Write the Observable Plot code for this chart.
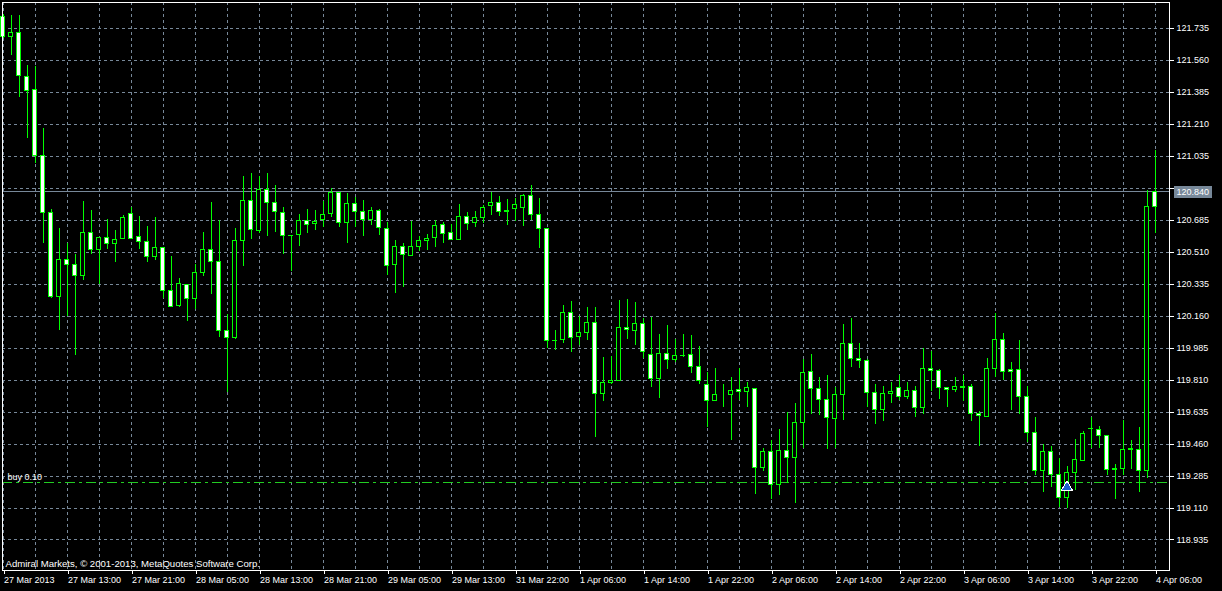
<!DOCTYPE html>
<html>
<head>
<meta charset="utf-8">
<script src="https://cdn.jsdelivr.net/npm/d3@7"></script>
<script src="https://cdn.jsdelivr.net/npm/@observablehq/plot@0.6"></script>
<style>
  html, body { margin: 0; padding: 0; background: #000; overflow: hidden; }
  #chart svg { display: block; }
  #chart svg line, #chart svg rect, #chart svg path { shape-rendering: crispEdges; }
</style>
</head>
<body>
<div id="chart"></div>
<script>
// USDJPY-like H1 bars (index = bar number, left to right)
const opens = [121.797,121.686,121.708,121.467,121.396,121.035,120.723,120.262,120.466,120.439,
120.377,120.614,120.521,120.587,120.552,120.579,120.718,120.592,120.565,120.481,
120.532,120.297,120.213,120.330,120.253,120.395,120.521,120.453,120.078,120.040,
120.568,120.789,120.623,120.849,120.778,120.723,120.596,120.601,120.680,120.663,
120.687,120.718,120.834,120.669,120.773,120.729,120.687,120.734,120.636,120.437,
120.537,120.490,120.535,120.568,120.587,120.658,120.614,120.576,120.701,120.669,
120.696,120.762,120.778,120.734,120.745,120.751,120.816,120.712,120.636,120.023,
120.027,120.176,120.045,120.065,120.122,119.731,119.791,119.805,120.096,120.078,
120.118,119.947,119.813,119.954,119.917,119.942,119.947,119.881,119.783,119.695,
119.728,119.728,119.755,119.744,119.761,119.329,119.416,119.236,119.422,119.383,
119.575,119.854,119.761,119.701,119.597,119.728,120.007,119.925,119.914,119.739,
119.646,119.733,119.766,119.717,119.750,119.655,119.870,119.857,119.766,119.755,
119.772,119.772,119.624,119.608,119.868,120.029,119.865,119.865,119.717,119.520,
119.310,119.416,119.291,119.165,119.301,119.369,119.540,119.537,119.503,119.318,
119.321,119.427,119.427,119.310,120.838];
const highs = [121.808,121.802,121.802,121.529,121.523,121.184,120.745,120.641,120.559,120.495,
120.785,120.736,120.590,120.690,120.626,120.709,120.751,120.703,120.648,120.698,
120.535,120.484,120.364,120.335,120.444,120.616,120.780,120.685,120.166,120.636,
120.922,120.942,120.922,120.942,120.873,120.754,120.599,120.714,120.745,120.736,
120.787,120.855,120.836,120.830,120.809,120.791,120.754,120.745,120.672,120.572,
120.554,120.676,120.594,120.608,120.685,120.672,120.658,120.769,120.725,120.730,
120.767,120.834,120.812,120.796,120.805,120.827,120.873,120.805,120.638,120.083,
120.216,120.238,120.158,120.207,120.207,119.934,119.937,120.244,120.249,120.233,
120.144,120.152,120.058,120.107,120.034,120.058,120.052,119.992,119.852,119.873,
119.788,119.821,119.873,119.794,119.763,119.438,119.478,119.537,119.634,119.679,
119.921,119.947,119.821,119.832,119.770,120.112,120.149,120.007,119.921,119.788,
119.777,119.795,119.835,119.799,119.777,119.985,119.966,119.870,119.766,119.821,
119.837,119.788,119.638,119.925,120.176,120.063,119.905,120.025,119.773,119.604,
119.460,119.445,119.383,119.336,119.484,119.527,119.606,119.555,119.505,119.347,
119.587,119.478,119.551,120.849,121.064];
const lows = [121.676,121.584,121.355,121.131,120.995,120.557,120.256,120.080,120.156,119.943,
120.353,120.495,120.331,120.526,120.453,120.579,120.579,120.526,120.453,120.466,
120.253,120.207,120.209,120.131,120.198,120.377,120.280,120.043,119.742,120.029,
120.431,120.576,120.612,120.594,120.617,120.495,120.402,120.539,120.612,120.626,
120.645,120.699,120.645,120.557,120.645,120.594,120.654,120.599,120.380,120.284,
120.316,120.486,120.512,120.517,120.535,120.557,120.572,120.574,120.626,120.645,
120.666,120.709,120.705,120.654,120.677,120.650,120.685,120.530,119.980,119.970,
120.009,119.959,119.998,120.025,119.496,119.691,119.788,119.801,120.030,120.001,
119.925,119.770,119.709,119.866,119.906,119.934,119.843,119.788,119.551,119.695,
119.657,119.478,119.697,119.660,119.183,119.310,119.159,119.177,119.245,119.135,
119.433,119.624,119.615,119.429,119.433,119.587,119.879,119.873,119.660,119.564,
119.584,119.679,119.697,119.701,119.606,119.624,119.748,119.702,119.660,119.742,
119.693,119.584,119.449,119.606,119.824,119.806,119.642,119.624,119.469,119.287,
119.195,119.223,119.113,119.110,119.205,119.365,119.433,119.438,119.287,119.154,
119.287,119.323,119.195,119.269,120.612];
const closes = [121.687,121.708,121.473,121.388,121.035,120.723,120.262,120.466,120.439,120.377,
120.614,120.521,120.587,120.552,120.576,120.698,120.579,120.563,120.481,120.532,
120.295,120.209,120.335,120.253,120.395,120.521,120.455,120.080,120.040,120.570,
120.789,120.628,120.849,120.776,120.727,120.595,120.595,120.680,120.658,120.674,
120.712,120.834,120.669,120.773,120.727,120.687,120.734,120.641,120.431,120.537,
120.494,120.537,120.572,120.581,120.652,120.608,120.576,120.701,120.663,120.696,
120.751,120.778,120.729,120.729,120.767,120.816,120.712,120.636,120.023,120.026,
120.176,120.040,120.067,120.122,119.731,119.795,119.806,120.096,120.081,120.118,
119.963,119.813,119.954,119.919,119.943,119.944,119.881,119.805,119.695,119.728,
119.728,119.750,119.744,119.766,119.329,119.416,119.236,119.422,119.383,119.575,
119.848,119.761,119.701,119.602,119.728,120.007,119.925,119.914,119.739,119.646,
119.733,119.744,119.717,119.750,119.655,119.870,119.857,119.766,119.755,119.772,
119.768,119.622,119.611,119.870,120.029,119.854,119.854,119.715,119.520,119.310,
119.416,119.291,119.165,119.301,119.373,119.516,119.542,119.502,119.318,119.321,
119.427,119.432,119.310,120.756,120.756];

// time-axis labels, one every 8 bars
const timeLabels = ["27 Mar 2013","27 Mar 13:00","27 Mar 21:00","28 Mar 05:00","28 Mar 13:00",
  "28 Mar 21:00","29 Mar 05:00","29 Mar 13:00","31 Mar 22:00","1 Apr 06:00","1 Apr 14:00",
  "1 Apr 22:00","2 Apr 06:00","2 Apr 14:00","2 Apr 22:00","3 Apr 06:00","3 Apr 14:00",
  "3 Apr 22:00","4 Apr 06:00"];
const barsPerLabel = 8;
const barsPerGrid = 4;

// price-axis ticks
const priceTicks = [118.935,119.110,119.285,119.460,119.635,119.810,119.985,120.160,
  120.335,120.510,120.685,120.860,121.035,121.210,121.385,121.560,121.735];

const bidPrice = 120.840;
const buyPrice = 119.247;
const buyText = "buy 0.10";
const buyBar = 133;
const copyright = "Admiral Markets, \u00A9 2001-2013, MetaQuotes Software Corp.";

const bars = opens.map((o, i) => ({i, o, h: highs[i], l: lows[i], c: closes[i]}));
const labelBars = timeLabels.map((_, k) => k * barsPerLabel);
const gridBars = d3.range(0, bars.length, barsPerGrid);

const GRID = "#778899";
const CANDLE = "#00ff00";

// the tick label hidden under the bid box in the original is left blank
const priceLabel = d => Math.abs(d - bidPrice) < 0.05 ? "" : d.toFixed(3);

const chart = Plot.plot({
  width: 1222,
  height: 591,
  marginLeft: 2,
  marginRight: 53,
  marginTop: 2,
  marginBottom: 21,
  style: {background: "#000", color: "#fff", fontFamily: "'Liberation Sans', Arial, sans-serif", fontSize: "9px"},
  x: {domain: [-0.0625, 145.8125], axis: null},
  y: {domain: [118.7682, 121.8745], axis: null},
  color: {type: "identity"},
  marks: [
    Plot.ruleY(priceTicks, {stroke: GRID, strokeDasharray: "3,3"}),
    Plot.ruleX(gridBars, {stroke: GRID, strokeDasharray: "3,3"}),
    Plot.ruleY([bidPrice], {stroke: GRID}),
    Plot.ruleY([buyPrice], {stroke: "#22cc22", strokeDasharray: "10,4,3,4"}),
    Plot.ruleX(bars, {x: "i", y1: "l", y2: "h", stroke: CANDLE}),
    Plot.rect(bars, {
      x1: d => d.i - 0.25, x2: d => d.i + 0.25,
      y1: "o", y2: "c",
      fill: d => d.c < d.o ? "#fff" : "#000",
      stroke: CANDLE
    }),
    Plot.dot([{i: buyBar, p: buyPrice}], {x: "i", y: "p", symbol: "triangle", r: 4, fill: "#1f5fcf", stroke: "#fff", strokeWidth: 1, dy: 4}),
    Plot.text([{p: buyPrice, t: buyText}], {y: "p", text: "t", frameAnchor: "left", textAnchor: "start", dx: 5, dy: -6, fill: "#fff"}),
    Plot.text([copyright], {frameAnchor: "bottom-left", dx: 3, dy: -4, fill: "#fff", fontSize: 9.6}),
    Plot.frame({stroke: "#fff"}),
    Plot.axisY(priceTicks, {anchor: "right", label: null, tickSize: 4, tickPadding: 3, tickFormat: priceLabel, color: "#fff"}),
    Plot.axisX(labelBars, {anchor: "bottom", label: null, tickSize: 4, tickPadding: 2, tickFormat: d => timeLabels[d / barsPerLabel], textAnchor: "start", dx: 1, color: "#fff"}),
    Plot.text([bidPrice], {y: d => d, text: d => d.toFixed(3), frameAnchor: "right", textAnchor: "start", dx: 7, fill: "#fff", className: "bid-label"})
  ]
});
document.getElementById("chart").appendChild(chart);

// grey box behind the current-bid label on the price scale
const bidText = d3.select(chart).select(".bid-label text");
if (!bidText.empty()) {
  const node = bidText.node();
  const bb = node.getBBox();
  d3.select(node.parentNode).insert("rect", "text")
    .attr("transform", node.getAttribute("transform"))
    .attr("x", bb.x - 3).attr("y", bb.y - 1)
    .attr("width", bb.width + 6).attr("height", bb.height + 2)
    .attr("fill", GRID);
}
</script>
</body>
</html>
